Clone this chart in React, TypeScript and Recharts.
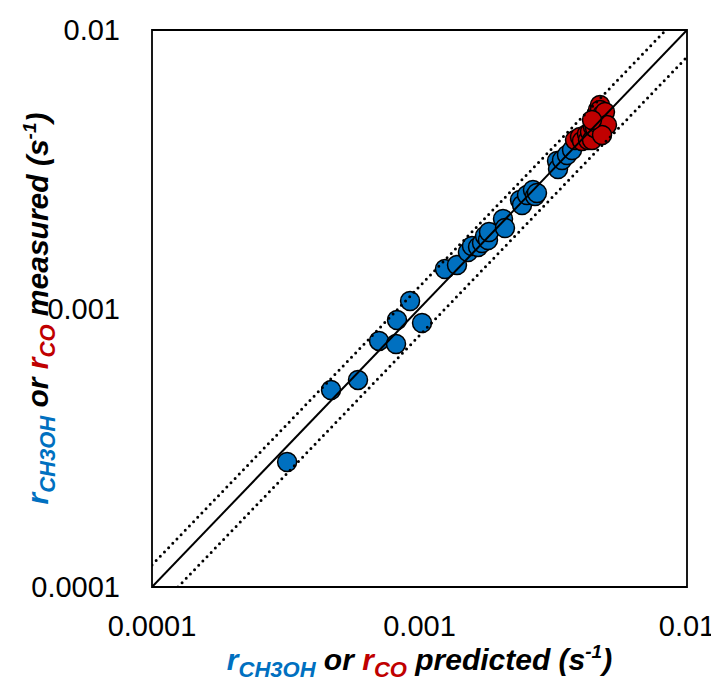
import React from 'react';
import { ScatterChart, Scatter, XAxis, YAxis, ReferenceArea, Label } from 'recharts';

const TICKS = [0.0001, 0.001, 0.01];
const DOMAIN: [number, number] = [0.0001, 0.01];

// CH3OH rates (predicted, measured)
const CH3OH_PREDICTED = [
  0.00032, 0.000467, 0.000589, 0.000706, 0.000817, 0.000824, 0.000922, 0.001022,
  0.001245, 0.001381, 0.001518, 0.001571, 0.001655, 0.001713, 0.001758, 0.001803,
  0.001819, 0.002052, 0.002087, 0.002375, 0.002417, 0.002523, 0.002656, 0.002703,
  0.002749, 0.003267, 0.003295, 0.00341, 0.00356, 0.003717,
];
const CH3OH_MEASURED = [
  0.000281, 0.00051, 0.000554, 0.000765, 0.000746, 0.000909, 0.001064, 0.000887,
  0.001386, 0.001433, 0.001596, 0.001677, 0.001663, 0.001719, 0.001821, 0.001762,
  0.001882, 0.002096, 0.001946, 0.002453, 0.002353, 0.002556, 0.002664, 0.002535,
  0.002599, 0.003386, 0.003169, 0.003414, 0.003558, 0.003708,
];

// CO rates (predicted, measured)
const CO_PREDICTED = [
  0.003814, 0.003981, 0.00405, 0.004228, 0.004265, 0.004339, 0.004414, 0.004452,
  0.004529, 0.004608, 0.004648, 0.004729, 0.004729, 0.004811, 0.004852, 0.004936,
  0.005022, 0.004811, 0.004414,
];
const CO_MEASURED = [
  0.004027, 0.004129, 0.003994, 0.004232, 0.004027, 0.004303, 0.004027, 0.004484,
  0.004447, 0.004635, 0.005161, 0.005379, 0.005161, 0.004951, 0.004751, 0.005077,
  0.00456, 0.004197, 0.004751,
];

const PARITY_ENDS = [0.0001, 0.01];
const UPPER_FACTOR = 1.2;
const LOWER_FACTOR = 0.8;

const BLUE = '#0070C0';
const RED = '#C00000';
const FONT = '"Liberation Sans", Arial, Helvetica, sans-serif';

const toPoints = (xs: number[], ys: number[]) => xs.map((x, i) => ({ x, y: ys[i] }));

const ch3ohData = toPoints(CH3OH_PREDICTED, CH3OH_MEASURED);
const coData = toPoints(CO_PREDICTED, CO_MEASURED);
const parityData = PARITY_ENDS.map((v) => ({ x: v, y: v }));
const upperData = [
  { x: PARITY_ENDS[0], y: PARITY_ENDS[0] * UPPER_FACTOR },
  { x: PARITY_ENDS[1] / UPPER_FACTOR, y: PARITY_ENDS[1] },
];
const lowerData = [
  { x: PARITY_ENDS[0] / LOWER_FACTOR, y: PARITY_ENDS[0] },
  { x: PARITY_ENDS[1], y: PARITY_ENDS[1] * LOWER_FACTOR },
];

const makeDot = (fill: string) => (props: any) => {
  if (props.cx == null || props.cy == null) return <g />;
  return <circle cx={props.cx} cy={props.cy} r={9.5} fill={fill} stroke="#000" strokeWidth={1.5} />;
};
const noDot = () => <g />;

const titleParts = (word: string) => [
  <tspan key="a" fill={BLUE}>r</tspan>,
  <tspan key="b" fill={BLUE} fontSize={22} dy={7}>CH3OH</tspan>,
  <tspan key="c" fill="#000" dy={-7}>{' or '}</tspan>,
  <tspan key="d" fill={RED}>r</tspan>,
  <tspan key="e" fill={RED} fontSize={22} dy={7}>CO</tspan>,
  <tspan key="f" fill="#000" dy={-7}>{` ${word} (s`}</tspan>,
  <tspan key="g" fill="#000" fontSize={19} dy={-12}>-1</tspan>,
  <tspan key="h" fill="#000" dy={12}>)</tspan>,
];

const XTitle = (props: any) => {
  const vb = props.viewBox || {};
  const cx = vb.x + vb.width / 2;
  const y = vb.y + 83;
  return (
    <text x={cx} y={y} textAnchor="middle" fontSize={30} fontWeight={700} fontStyle="italic"
      fontFamily={FONT} style={{ whiteSpace: 'pre' }}>
      {titleParts('predicted')}
    </text>
  );
};

const YTitle = (props: any) => {
  const vb = props.viewBox || {};
  const cy = vb.y + vb.height / 2;
  const x = 40;
  return (
    <text x={x} y={cy} textAnchor="middle" fontSize={30} fontWeight={700} fontStyle="italic"
      fontFamily={FONT} transform={`rotate(-90, ${x}, ${cy})`} style={{ whiteSpace: 'pre' }}>
      {titleParts('measured')}
    </text>
  );
};

const tickStyle = { fontSize: 29, fill: '#000', fontFamily: FONT };

export default function App() {
  return (
    <div style={{ width: 703, height: 672 }}>
      <style>{'.recharts-surface { overflow: visible; } .recharts-wrapper { overflow: visible; }'}</style>
      <ScatterChart width={703} height={672} margin={{ top: 22, right: 24, bottom: 0, left: 0 }}>
        <XAxis
          type="number"
          dataKey="x"
          scale="log"
          domain={DOMAIN}
          ticks={TICKS}
          allowDataOverflow
          axisLine={false}
          tickLine={false}
          tickSize={0}
          tickMargin={28}
          height={93}
          tick={tickStyle}
          tickFormatter={(v: number) => String(v)}
          interval={0}
        >
          <Label content={<XTitle />} />
        </XAxis>
        <YAxis
          type="number"
          dataKey="y"
          scale="log"
          domain={DOMAIN}
          ticks={TICKS}
          allowDataOverflow
          axisLine={false}
          tickLine={false}
          tickSize={0}
          tickMargin={32}
          width={144}
          tick={tickStyle}
          tickFormatter={(v: number) => String(v)}
          interval={0}
        >
          <Label content={<YTitle />} />
        </YAxis>
        <ReferenceArea x1={DOMAIN[0]} x2={DOMAIN[1]} y1={DOMAIN[0]} y2={DOMAIN[1]}
          fill="none" fillOpacity={0} stroke="#000" strokeWidth={1.8} ifOverflow="visible" />
        <Scatter data={ch3ohData} isAnimationActive={false} shape={makeDot(BLUE)} />
        <Scatter data={coData} isAnimationActive={false} shape={makeDot(RED)} />
        <Scatter data={parityData} isAnimationActive={false} shape={noDot}
          line={{ stroke: '#000', strokeWidth: 2 }} />
        <Scatter data={upperData} isAnimationActive={false} shape={noDot}
          line={{ stroke: '#000', strokeWidth: 3, strokeDasharray: '0 6', strokeLinecap: 'round' }} />
        <Scatter data={lowerData} isAnimationActive={false} shape={noDot}
          line={{ stroke: '#000', strokeWidth: 3, strokeDasharray: '0 6', strokeLinecap: 'round' }} />
      </ScatterChart>
    </div>
  );
}
